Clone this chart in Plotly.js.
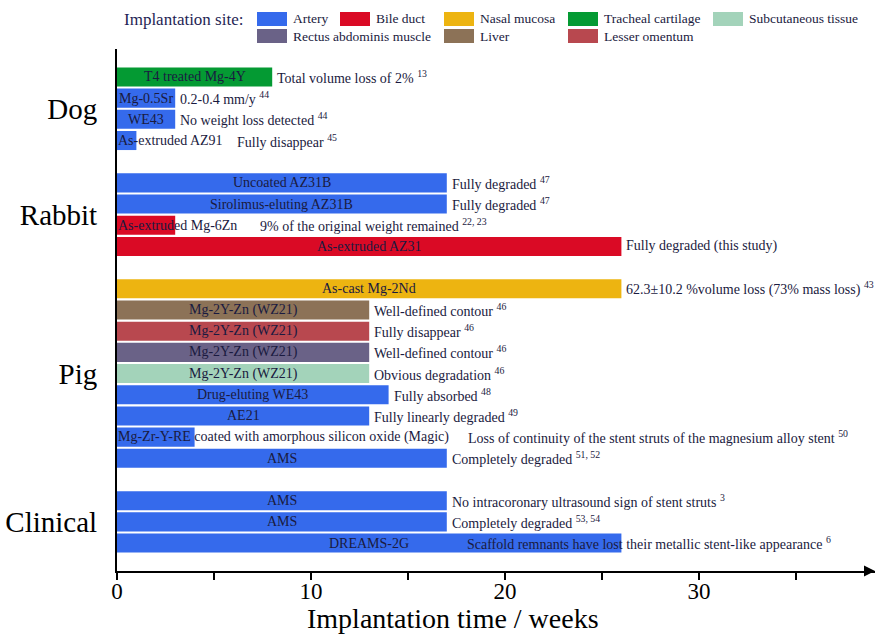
<!DOCTYPE html>
<html>
<head>
<meta charset="utf-8">
<script src="https://cdn.plot.ly/plotly-3.0.1.min.js"></script>
<style>
html,body{margin:0;padding:0;background:#fff;}
#chart{width:877px;height:638px;}
</style>
</head>
<body>
<div id="chart"></div>
<script>
// ---------------- DATA ----------------
const groups = ['Dog', 'Rabbit', 'Pig', 'Clinical'];

const rowGroup = [
  'Dog', 'Dog', 'Dog', 'Dog',
  'Rabbit', 'Rabbit', 'Rabbit', 'Rabbit',
  'Pig', 'Pig', 'Pig', 'Pig', 'Pig', 'Pig', 'Pig', 'Pig', 'Pig',
  'Clinical', 'Clinical', 'Clinical'
];

const alloys = [
  'T4 treated Mg-4Y', 'Mg-0.5Sr', 'WE43', 'As-extruded AZ91',
  'Uncoated AZ31B', 'Sirolimus-eluting AZ31B', 'As-extruded Mg-6Zn', 'As-extruded AZ31',
  'As-cast Mg-2Nd', 'Mg-2Y-Zn (WZ21)', 'Mg-2Y-Zn (WZ21)', 'Mg-2Y-Zn (WZ21)', 'Mg-2Y-Zn (WZ21)',
  'Drug-eluting WE43', 'AE21', 'Mg-Zr-Y-RE coated with amorphous silicon oxide (Magic)', 'AMS',
  'AMS', 'AMS', 'DREAMS-2G'
];

const sites = [
  'Tracheal cartilage', 'Artery', 'Artery', 'Artery',
  'Artery', 'Artery', 'Bile duct', 'Bile duct',
  'Nasal mucosa', 'Liver', 'Lesser omentum', 'Rectus abdominis muscle', 'Subcutaneous tissue',
  'Artery', 'Artery', 'Artery', 'Artery',
  'Artery', 'Artery', 'Artery'
];

const weeks = [
  8, 3, 3, 1,
  17, 17, 3, 26,
  26, 13, 13, 13, 13, 14, 13, 4, 17,
  17, 17, 26
];

const outcomes = [
  'Total volume loss of 2% <sup>13</sup>',
  '0.2-0.4 mm/y <sup>44</sup>',
  'No weight loss detected <sup>44</sup>',
  'Fully disappear <sup>45</sup>',
  'Fully degraded <sup>47</sup>',
  'Fully degraded <sup>47</sup>',
  '9% of the original weight remained <sup>22, 23</sup>',
  'Fully degraded (this study)',
  '62.3±10.2 %volume loss (73% mass loss) <sup>43</sup>',
  'Well-defined contour <sup>46</sup>',
  'Fully disappear <sup>46</sup>',
  'Well-defined contour <sup>46</sup>',
  'Obvious degradation <sup>46</sup>',
  'Fully absorbed <sup>48</sup>',
  'Fully linearly degraded <sup>49</sup>',
  'Loss of continuity of the stent struts of the magnesium alloy stent <sup>50</sup>',
  'Completely degraded <sup>51, 52</sup>',
  'No intracoronary ultrasound sign of stent struts <sup>3</sup>',
  'Completely degraded <sup>53, 54</sup>',
  'Scaffold remnants have lost their metallic stent-like appearance <sup>6</sup>'
];

const siteNames = ['Artery', 'Bile duct', 'Nasal mucosa', 'Tracheal cartilage', 'Subcutaneous tissue',
                   'Rectus abdominis muscle', 'Liver', 'Lesser omentum'];

// ---------------- STYLE / LAYOUT ----------------
const siteColors = {
  'Artery': '#356AEC',
  'Bile duct': '#DA0A25',
  'Nasal mucosa': '#EDB411',
  'Tracheal cartilage': '#049A33',
  'Subcutaneous tissue': '#A3D3BA',
  'Rectus abdominis muscle': '#6A6287',
  'Liver': '#8C7257',
  'Lesser omentum': '#B8484F'
};
// where a note starts (weeks) when it does not simply follow the bar
const noteStartOverride = {3: 6.13, 6: 7.32, 15: 18.05, 19: 18.0};
// legend cells in page pixels [swatch left, row centre]
const legendCells = [[257, 19], [340, 19], [444, 19], [568, 19], [713, 19], [257, 36], [444, 36], [568, 36]];

const FONT = "'Liberation Serif', 'Times New Roman', Times, serif";
const TXT = '#1a1a40';
const W = 877, H = 638;
const M = {l: 117, r: 2, t: 49, b: 67};
const PW = W - M.l - M.r, PH = H - M.t - M.b;
const PX_PER_WEEK = 19.4;
const xMax = PW / PX_PER_WEEK;

// slot positions: one empty slot between groups
const slots = rowGroup.map((g, i) => i + groups.indexOf(g));
const groupCentres = groups.map(g => {
  const s = slots.filter((_, i) => rowGroup[i] === g);
  return (Math.min(...s) + Math.max(...s)) / 2;
});
const yTop = -1.32, yBot = slots[slots.length - 1] + 1.32;

const px2px = x => (x - M.l) / PW;          // page x -> paper x
const py2py = y => (H - M.b - y) / PH;      // page y -> paper y

// text measure
const cv = document.createElement('canvas').getContext('2d');
cv.font = "14px 'Liberation Serif'";
const textW = s => cv.measureText(s.replace(/<[^>]+>/g, '')).width;

// ---------------- TRACES ----------------
const traces = siteNames.map(site => {
  const idx = weeks.map((_, i) => i).filter(i => sites[i] === site);
  return {
    type: 'bar', orientation: 'h', name: site,
    x: idx.map(i => weeks[i]),
    y: idx.map(i => slots[i]),
    base: 0, width: 0.9,
    marker: {color: siteColors[site], line: {width: 0}},
    hovertext: idx.map(i => alloys[i]),
    hoverinfo: 'text+x',
    showlegend: false
  };
});

// ---------------- ANNOTATIONS ----------------
const ann = [];
weeks.forEach((w, i) => {
  const barPx = w * PX_PER_WEEK;
  const lw = textW(alloys[i]);
  const fits = lw + 2 <= barPx;
  ann.push({
    x: fits ? w / 2 : 0, y: slots[i], xref: 'x', yref: 'y',
    text: alloys[i], showarrow: false,
    xanchor: fits ? 'center' : 'left',
    yanchor: 'middle', align: fits ? 'center' : 'left',
    font: {family: FONT, size: 14, color: TXT}, borderpad: 0
  });
  const start = (i in noteStartOverride) ? noteStartOverride[i] : w;
  ann.push({
    x: start, y: slots[i], xref: 'x', yref: 'y',
    text: outcomes[i], showarrow: false,
    xanchor: 'left', xshift: (i in noteStartOverride) ? 0 : 4,
    yanchor: 'middle', align: 'left',
    font: {family: FONT, size: 14, color: TXT}, borderpad: 0
  });
});

// axis title (placed as in the reference, left of centre)
ann.push({
  x: px2px(453), y: py2py(619), xref: 'paper', yref: 'paper',
  text: 'Implantation time / weeks', showarrow: false,
  xanchor: 'center', yanchor: 'middle',
  font: {family: FONT, size: 28, color: '#000'}
});

// arrow at the end of the x axis
ann.push({
  x: 1, y: 0, xref: 'paper', yref: 'paper', axref: 'pixel', ayref: 'pixel',
  ax: -14, ay: 0, text: ' ', showarrow: true,
  arrowhead: 2, arrowsize: 1.1, arrowwidth: 2, arrowcolor: '#000'
});

// legend
ann.push({
  x: px2px(122), y: py2py(20), xref: 'paper', yref: 'paper',
  text: 'Implantation site:', showarrow: false, xanchor: 'left', yanchor: 'middle',
  font: {family: FONT, size: 17, color: '#1f1f55'}
});
const shapes = [];
siteNames.forEach((site, k) => {
  const [sx, sy] = legendCells[k];
  shapes.push({
    type: 'rect', xref: 'paper', yref: 'paper',
    x0: px2px(sx), x1: px2px(sx + 30), y0: py2py(sy + 7), y1: py2py(sy - 7),
    fillcolor: siteColors[site], line: {width: 0}
  });
  ann.push({
    x: px2px(sx + 34), y: py2py(sy), xref: 'paper', yref: 'paper',
    text: site, showarrow: false, xanchor: 'left', yanchor: 'middle',
    font: {family: FONT, size: 13.5, color: TXT}
  });
});

// ---------------- LAYOUT ----------------
const layout = {
  width: W, height: H,
  margin: M,
  paper_bgcolor: '#fff', plot_bgcolor: '#fff',
  font: {family: FONT, color: '#000'},
  barmode: 'overlay',
  showlegend: false,
  xaxis: {
    range: [0, xMax], showgrid: false, zeroline: false,
    showline: true, linewidth: 2, linecolor: '#000',
    ticks: 'outside', ticklen: 7, tickwidth: 2, tickcolor: '#000',
    tick0: 0, dtick: 10,
    ticklabelstandoff: -9,
    minor: {dtick: 5, ticks: 'outside', ticklen: 7, tickwidth: 2, tickcolor: '#000', showgrid: false},
    tickfont: {family: FONT, size: 23, color: '#000'},
    fixedrange: true
  },
  yaxis: {
    range: [yBot, yTop], showgrid: false, zeroline: false,
    showline: true, linewidth: 2, linecolor: '#000',
    ticks: '', tickvals: groupCentres, ticktext: groups,
    ticklabelstandoff: 12,
    tickfont: {family: FONT, size: 29, color: '#000'},
    fixedrange: true
  },
  annotations: ann,
  shapes: shapes
};

Plotly.newPlot('chart', traces, layout, {displayModeBar: false, staticPlot: true});
</script>
</body>
</html>
